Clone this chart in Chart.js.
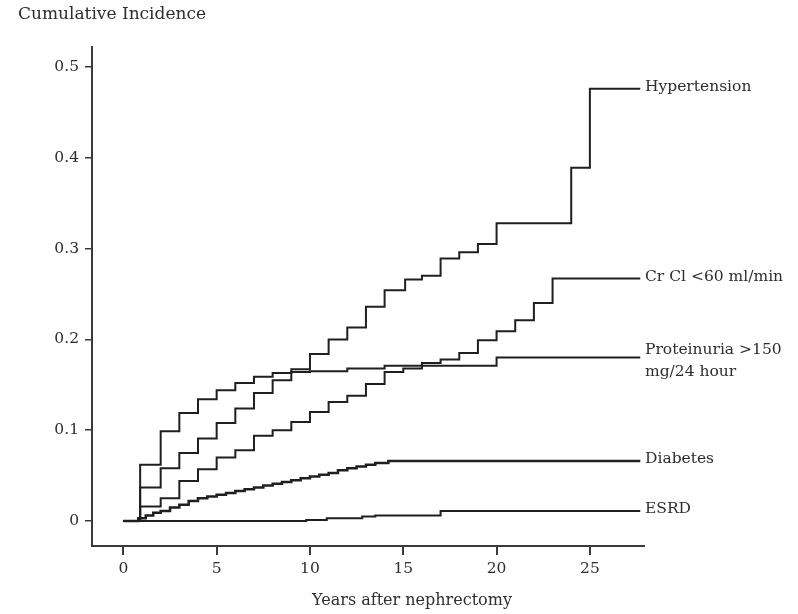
<!DOCTYPE html>
<html>
<head>
<meta charset="utf-8">
<script src="https://cdn.jsdelivr.net/npm/chart.js@4.4.0/dist/chart.umd.min.js"></script>
<style>
  html, body { margin: 0; padding: 0; background: #fff; }
  #wrap { width: 798px; height: 614px; }
</style>
</head>
<body>
<div id="wrap"><canvas id="chart" width="798" height="614"></canvas></div>
<script>
// Cumulative incidence after nephrectomy (Kaplan-Meier style step curves)

var xTicks = [0, 5, 10, 15, 20, 25];
var xTickLabels = ['0', '5', '10', '15', '20', '25'];
var yTicks = [0, 0.1, 0.2, 0.3, 0.4, 0.5];
var yTickLabels = ['0', '0.1', '0.2', '0.3', '0.4', '0.5'];

var yTitle = 'Cumulative Incidence';
var xTitle = 'Years after nephrectomy';

var seriesNames = ['Hypertension', 'CrCl <60', 'Proteinuria', 'Diabetes', 'ESRD'];
var seriesLabels = [
  ['Hypertension'],
  ['Cr Cl <60 ml/min'],
  ['Proteinuria >150', 'mg/24 hour'],
  ['Diabetes'],
  ['ESRD']
];

var hypTimes  = [0, 0.9, 2, 3, 4, 5, 6, 7, 8, 9, 10, 11, 12, 13, 14, 15.1, 16, 17, 18, 19, 20, 24, 25, 27.7];
var hypValues = [0, 0.062, 0.099, 0.119, 0.134, 0.144, 0.152, 0.159, 0.163, 0.167, 0.184, 0.2, 0.213, 0.236, 0.254, 0.266, 0.27, 0.289, 0.296, 0.305, 0.328, 0.389, 0.476, 0.476];

var crclTimes  = [0, 0.9, 2, 3, 4, 5, 6, 7, 8, 9, 10, 11, 12, 13, 14, 15, 16, 17, 18, 19, 20, 21, 22, 23, 27.7];
var crclValues = [0, 0.016, 0.025, 0.044, 0.057, 0.07, 0.078, 0.094, 0.1, 0.109, 0.12, 0.131, 0.138, 0.151, 0.164, 0.168, 0.174, 0.178, 0.185, 0.199, 0.209, 0.221, 0.24, 0.267, 0.267];

var protTimes  = [0, 0.9, 2, 3, 4, 5, 6, 7, 8, 9, 10, 12, 14, 20, 27.7];
var protValues = [0, 0.037, 0.058, 0.075, 0.091, 0.108, 0.124, 0.141, 0.155, 0.164, 0.165, 0.168, 0.171, 0.18, 0.18];

var diabTimes  = [0, 0.8, 1.2, 1.6, 2, 2.5, 3, 3.5, 4, 4.5, 5, 5.5, 6, 6.5, 7, 7.5, 8, 8.5, 9, 9.5, 10, 10.5, 11, 11.5, 12, 12.5, 13, 13.5, 14.2, 27.7];
var diabValues = [0, 0.003, 0.006, 0.009, 0.011, 0.015, 0.018, 0.022, 0.025, 0.027, 0.029, 0.031, 0.033, 0.035, 0.037, 0.039, 0.041, 0.043, 0.045, 0.047, 0.049, 0.051, 0.053, 0.056, 0.058, 0.06, 0.062, 0.064, 0.066, 0.066];

var esrdTimes  = [0, 9.8, 10.9, 12.8, 13.5, 17, 27.7];
var esrdValues = [0, 0.001, 0.003, 0.005, 0.006, 0.011, 0.011];

var LINE_COLOR = '#1f1f1f';
var AXIS_COLOR = '#3a3a3a';
var TEXT_COLOR = '#2e2e2e';
var FONT_FAMILY = '"DejaVu Serif", serif';

function toPoints(times, values) {
  return times.map(function(t, i) { return { x: t, y: values[i] }; });
}

function stepSeries(label, times, values, width) {
  return {
    label: label,
    data: toPoints(times, values),
    borderColor: LINE_COLOR,
    borderWidth: width,
    pointRadius: 0,
    fill: false,
    stepped: true,
    tension: 0
  };
}

var datasets = [
  stepSeries(seriesNames[0], hypTimes, hypValues, 2),
  stepSeries(seriesNames[1], crclTimes, crclValues, 2),
  stepSeries(seriesNames[2], protTimes, protValues, 2),
  stepSeries(seriesNames[3], diabTimes, diabValues, 2.5),
  stepSeries(seriesNames[4], esrdTimes, esrdValues, 2)
];

// titles and right-hand curve labels
var figureText = {
  id: 'figureText',
  afterDraw: function(chart) {
    var ctx = chart.ctx;
    var area = chart.chartArea;
    var ys = chart.scales.y;
    ctx.save();
    ctx.fillStyle = TEXT_COLOR;
    ctx.textBaseline = 'middle';

    ctx.font = '17px ' + FONT_FAMILY;
    ctx.textAlign = 'left';
    ctx.fillText(yTitle, 18, 15);

    ctx.font = '16px ' + FONT_FAMILY;
    ctx.textAlign = 'center';
    ctx.fillText(xTitle, 412, 601);

    ctx.font = '15.5px ' + FONT_FAMILY;
    ctx.textAlign = 'left';
    chart.data.datasets.forEach(function(ds, i) {
      var last = ds.data[ds.data.length - 1];
      var y = ys.getPixelForValue(last.y);
      var lines = seriesLabels[i];
      var y0 = y - 2 - (lines.length - 1) * 6;
      lines.forEach(function(txt, k) {
        ctx.fillText(txt, area.right + 1, y0 + k * 22);
      });
    });
    ctx.restore();
  }
};

new Chart(document.getElementById('chart'), {
  type: 'line',
  data: { datasets: datasets },
  plugins: [figureText],
  options: {
    responsive: false,
    animation: false,
    layout: { padding: { left: 0, top: 47, right: 154, bottom: 0 } },
    plugins: {
      legend: { display: false },
      tooltip: { enabled: false },
      title: { display: false }
    },
    scales: {
      x: {
        type: 'linear',
        min: -1.68,
        max: 27.9,
        afterBuildTicks: function(axis) {
          axis.ticks = xTicks.map(function(v) { return { value: v }; });
        },
        afterFit: function(axis) { axis.height = 68; },
        ticks: {
          callback: function(v, i) { return xTickLabels[i]; },
          color: TEXT_COLOR,
          font: { family: FONT_FAMILY, size: 15.5 },
          padding: 5,
          maxRotation: 0
        },
        grid: {
          drawOnChartArea: false,
          drawTicks: true,
          tickLength: 9,
          color: AXIS_COLOR,
          lineWidth: 2
        },
        border: { display: true, color: AXIS_COLOR, width: 2 }
      },
      y: {
        type: 'linear',
        min: -0.0275,
        max: 0.522,
        afterBuildTicks: function(axis) {
          axis.ticks = yTicks.map(function(v) { return { value: v }; });
        },
        afterFit: function(axis) { axis.width = 92; },
        ticks: {
          callback: function(v, i) { return yTickLabels[i]; },
          color: TEXT_COLOR,
          font: { family: FONT_FAMILY, size: 15.5 },
          padding: 6
        },
        grid: {
          drawOnChartArea: false,
          drawTicks: true,
          tickLength: 7,
          color: AXIS_COLOR,
          lineWidth: 1.5
        },
        border: { display: true, color: AXIS_COLOR, width: 2 }
      }
    }
  }
});
</script>
</body>
</html>
